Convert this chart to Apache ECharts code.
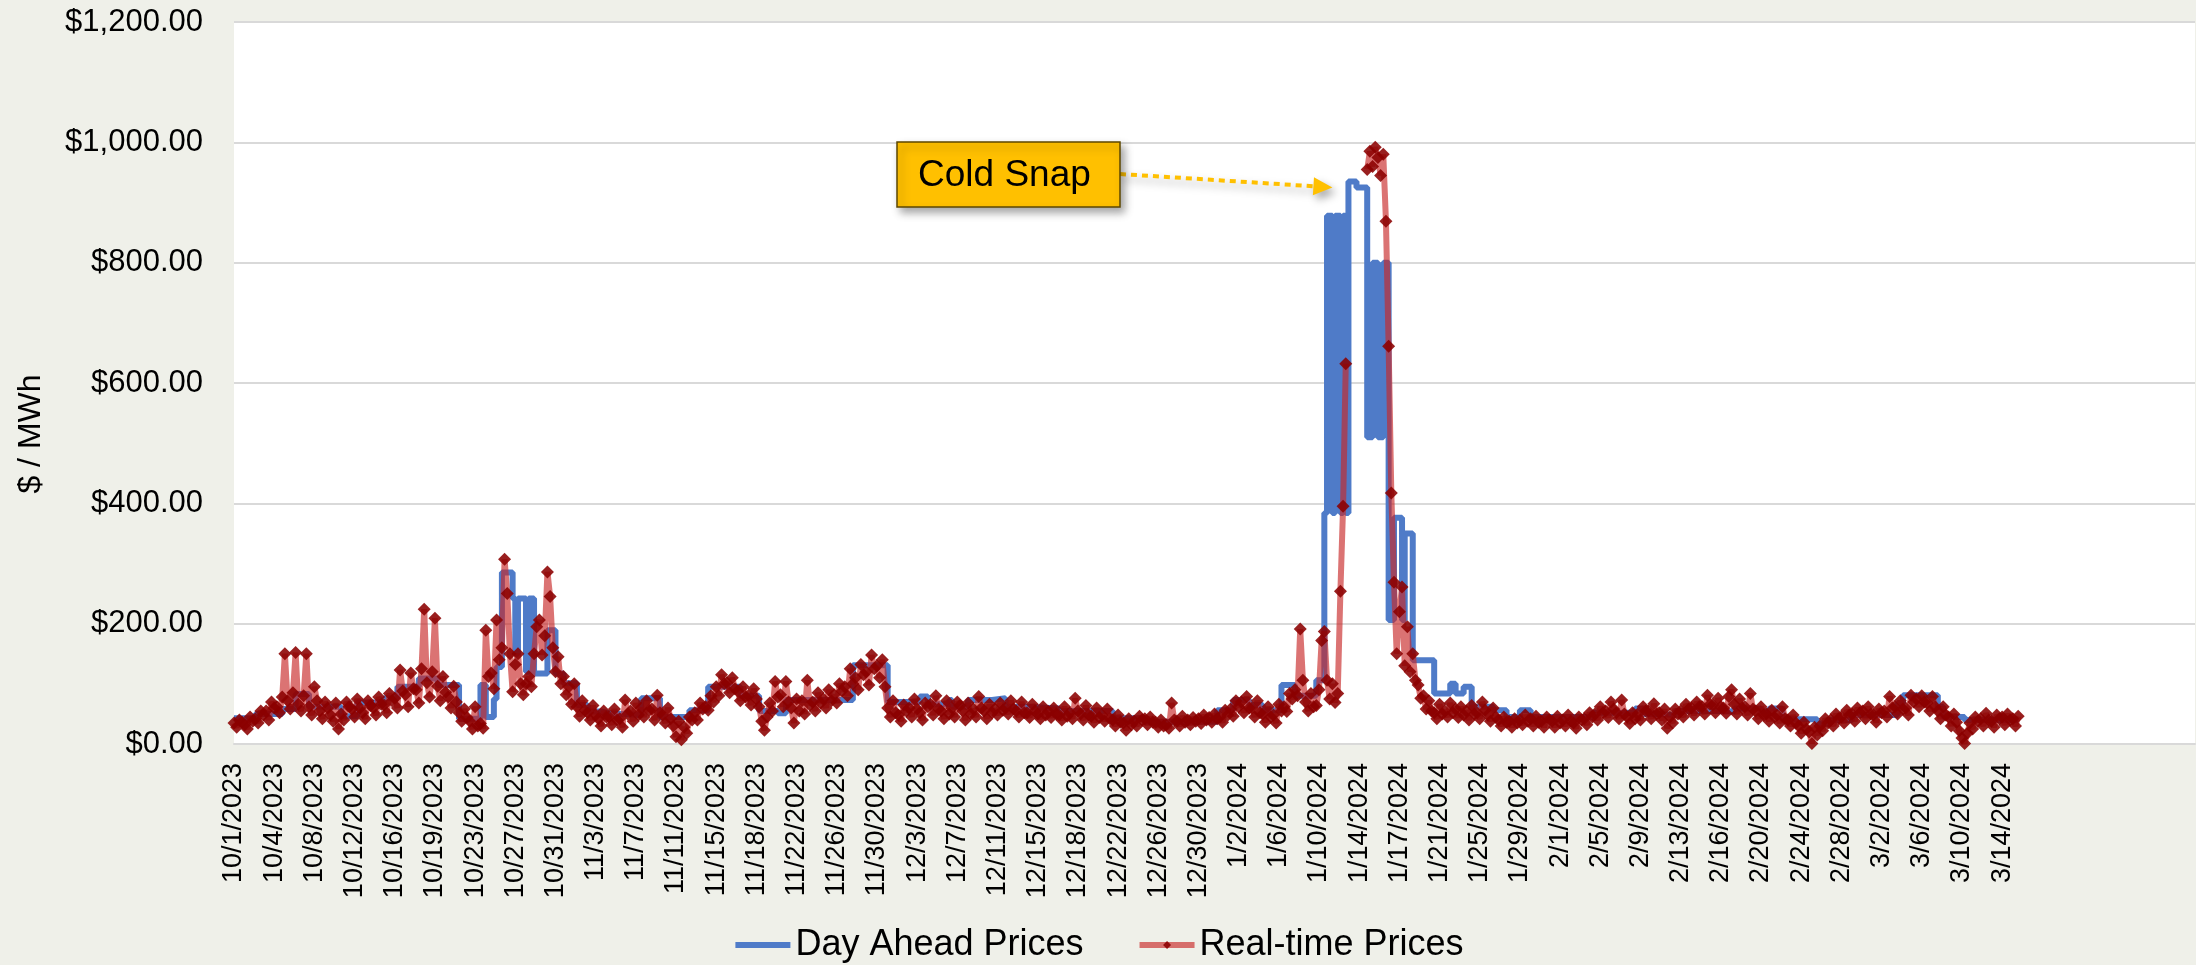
<!DOCTYPE html>
<html>
<head>
<meta charset="utf-8">
<title>Day Ahead vs Real-time Prices</title>
<script src="https://cdn.jsdelivr.net/npm/echarts@6/dist/echarts.min.js"></script>
<style>
  html, body { margin: 0; padding: 0; background: #eff0e9; }
  #chart { width: 2196px; height: 965px; }
</style>
</head>
<body>
<div id="chart"></div>
<script>
// x axis: one slot every 6 hours from 10/1/2023, labels every 3.75 days
const startDate = new Date(2023, 9, 1)
const slotCount = 733
const labelEvery = 15
const tickLabels = ['10/1/2023', '10/4/2023', '10/8/2023', '10/12/2023', '10/16/2023', '10/19/2023', '10/23/2023',
  '10/27/2023', '10/31/2023', '11/3/2023', '11/7/2023', '11/11/2023', '11/15/2023', '11/18/2023', '11/22/2023',
  '11/26/2023', '11/30/2023', '12/3/2023', '12/7/2023', '12/11/2023', '12/15/2023', '12/18/2023', '12/22/2023',
  '12/26/2023', '12/30/2023', '1/2/2024', '1/6/2024', '1/10/2024', '1/14/2024', '1/17/2024', '1/21/2024',
  '1/25/2024', '1/29/2024', '2/1/2024', '2/5/2024', '2/9/2024', '2/13/2024', '2/16/2024', '2/20/2024',
  '2/24/2024', '2/28/2024', '3/2/2024', '3/6/2024', '3/10/2024', '3/14/2024']

// real-time price, 4 readings per day (00, 06, 12, 18h), $/MWh
const rtPrices = [
  35, 28, 40, 36, 32, 25, 45, 38, 42, 35, 55, 48, 55, 40, 70, 60, 62, 52, 78, 150, 72, 58, 85, 152, 66, 55, 80, 150,
  62, 48, 95, 72, 55, 42, 70, 60, 48, 38, 68, 25, 50, 40, 70, 62, 58, 45, 75, 60, 52, 42, 72, 64, 60, 48, 78, 66,
  65, 52, 84, 72, 76, 60, 123, 88, 82, 62, 118, 92, 90, 68, 125, 224, 102, 78, 120, 209, 96, 72, 112, 86, 78, 60, 96, 70,
  52, 38, 58, 44, 38, 25, 62, 30, 34, 26, 189, 112, 118, 92, 206, 140, 160, 307, 250, 150, 87, 132, 150, 100, 82, 100, 112, 95,
  150, 195, 206, 148, 180, 286, 245, 160, 120, 145, 100, 112, 82, 95, 66, 100, 62, 46, 72, 56, 52, 40, 64, 48, 42, 30, 55, 45,
  45, 32, 58, 40, 42, 28, 73, 50, 55, 38, 68, 48, 60, 45, 72, 56, 58, 40, 81, 52, 48, 35, 60, 42, 30, 12, 38, 7,
  28, 18, 45, 40, 52, 40, 68, 58, 62, 56, 80, 70, 95, 80, 115, 100, 102, 85, 110, 92, 88, 72, 95, 78, 80, 65, 92, 75,
  62, 38, 23, 45, 68, 55, 104, 78, 82, 62, 104, 70, 60, 35, 75, 55, 72, 50, 106, 65, 70, 55, 85, 68, 75, 60, 90, 72,
  82, 68, 100, 88, 95, 80, 125, 100, 110, 90, 132, 115, 120, 98, 148, 125, 130, 110, 140, 95, 60, 45, 72, 52, 48, 38, 65, 55,
  60, 45, 75, 58, 52, 40, 68, 62, 66, 48, 80, 58, 55, 42, 72, 50, 60, 45, 70, 64, 55, 40, 68, 50, 58, 45, 79, 60,
  55, 42, 66, 52, 58, 48, 68, 56, 60, 50, 72, 58, 55, 45, 70, 52, 52, 44, 66, 55, 50, 42, 62, 48, 54, 44, 60, 50,
  48, 40, 62, 46, 52, 42, 76, 55, 50, 40, 64, 48, 46, 36, 60, 44, 48, 38, 58, 42, 40, 30, 48, 36, 35, 23, 42, 32,
  38, 30, 46, 40, 42, 32, 45, 36, 36, 28, 40, 30, 32, 26, 68, 40, 38, 30, 46, 36, 40, 32, 44, 38, 42, 34, 48, 40,
  44, 36, 50, 42, 45, 36, 56, 48, 58, 46, 72, 62, 70, 52, 79, 60, 60, 45, 72, 52, 50, 36, 62, 45, 48, 35, 66, 55,
  62, 54, 84, 75, 90, 80, 191, 106, 70, 55, 84, 62, 64, 90, 172, 187, 106, 75, 100, 69, 84, 254, 395, 632,
  null, null, null, null, null, null, null, 955, 985, 960, 992, 975, 945, 980, 869, 661, 417, 269, 150, 220,
  261, 130, 195, 120, 150, 106, 98, 76, 80, 58, 72, 55, 52, 42, 66, 50, 55, 45, 68, 52, 58, 44, 62, 48, 55, 40, 64, 50,
  52, 42, 70, 56, 48, 38, 60, 45, 40, 30, 45, 36, 38, 28, 42, 35, 40, 32, 48, 38, 42, 30, 46, 36, 38, 28, 45, 40,
  38, 28, 46, 35, 40, 30, 48, 38, 35, 26, 45, 40, 42, 32, 52, 45, 50, 40, 62, 52, 55, 44, 70, 58, 52, 42, 73, 50,
  45, 34, 52, 42, 50, 40, 62, 55, 55, 42, 67, 50, 52, 40, 58, 26, 45, 35, 58, 50, 55, 45, 66, 58, 60, 48, 70, 62,
  62, 50, 81, 66, 65, 52, 76, 62, 60, 51, 79, 90, 66, 50, 75, 60, 62, 48, 84, 58, 55, 42, 62, 48, 50, 38, 56, 45,
  48, 35, 62, 42, 40, 30, 48, 35, 30, 18, 36, 25, 20, 1, 28, 15, 30, 22, 42, 35, 40, 30, 50, 42, 45, 35, 56, 48,
  50, 38, 60, 52, 55, 42, 62, 50, 48, 36, 58, 52, 55, 45, 79, 60, 62, 50, 72, 58, 60, 48, 81, 70, 75, 62, 80, 70,
  68, 55, 79, 62, 55, 42, 62, 48, 45, 30, 50, 36, 22, 10, 1, 18, 35, 25, 45, 38, 42, 30, 51, 40, 38, 28, 48, 42,
  45, 32, 50, 40, 42, 30, 46
]

// day ahead price: day (since 10/1) where a new level starts, and that level
const daDays = [0, 2, 4.5, 5.75, 7, 10, 11.5, 14, 15.25, 17.25, 19, 21, 23, 23.5, 24.25, 24.5, 25, 26, 26.25, 26.5,
  27.25, 27.5, 28, 29.25, 30, 30.75, 32, 33, 34.25, 35, 38, 39.75, 42.5, 44.25, 47.25, 49, 50.75, 51.5, 57.75, 61,
  64, 64.75, 66.75, 67, 68.5, 70.75, 72, 74, 77, 82, 85, 91.75, 93.25, 94.75, 96, 97.75, 99, 101, 101.75, 102,
  102.5, 102.75, 103.25, 103.5, 103.75, 104, 104.75, 105.75, 106.25, 106.75, 107.25, 107.75, 108.25, 109, 109.25,
  110, 112, 113.5, 114, 114.75, 115.5, 117.5, 118.75, 120, 121, 126.75, 130.75, 131.5, 133, 134.5, 138.5, 140,
  142.5, 143.25, 144.5, 147.75, 149, 151, 155.25, 155.75, 159, 159.5, 161.5, 166.5]
const daPrices = [43, 50, 58, 83, 62, 46, 69, 76, 95, 109, 98, 42, 98, 45, 75, 128, 285, 242, 150, 242,
  120, 242, 117, 189, 117, 101, 65, 54, 51, 48, 76, 45, 56, 95, 80, 55, 51, 73, 131, 70,
  79, 66, 73, 62, 73, 76, 62, 59, 55, 43, 37, 56, 73, 65, 56, 98, 80, 106, 384, 878,
  384, 878, 384, 878, 384, 935, 925, 510, 800, 510, 800, 206, 376, 206, 350,
  139, 84, 100, 84, 95, 62, 56, 45, 56, 45, 52, 59, 50, 48, 55, 54, 59,
  54, 59, 41, 34, 40, 48, 68, 81, 62, 45, 40, 40]

// where the "Cold Snap" arrow points: [day, price]
const coldSnapTip = [102.5, 925]

const slots = []
for (let i = 0; i < slotCount; i++) {
  const d = new Date(startDate.getTime() + i * 6 * 3600 * 1000)
  slots.push((d.getMonth() + 1) + '/' + d.getDate() + '/' + d.getFullYear() + ' ' + d.getHours() + ':00')
}
const daData = daDays.map((d, i) => [d * 4, daPrices[i]])

const font = '"Liberation Sans", Arial, sans-serif'
const money = v => '$' + v.toFixed(2).replace(/\B(?=(\d{3})+(?!\d))/g, ',')
const daColor = '#4f7bc8'
const rtLine = 'rgba(200, 40, 40, 0.65)'
const rtMark = '#8b0000'

const chart = echarts.init(document.getElementById('chart'))
chart.setOption({
  backgroundColor: '#eff0e9',
  animation: false,
  grid: {
    left: 234,
    right: 1,
    top: 22,
    bottom: 221,
    show: true,
    backgroundColor: '#ffffff',
    borderWidth: 0
  },
  legend: {
    data: [
      { name: 'Day Ahead Prices', itemStyle: { opacity: 0 }, lineStyle: { width: 6, color: daColor } },
      { name: 'Real-time Prices', itemStyle: { color: rtMark }, lineStyle: { width: 6, color: rtLine } }
    ],
    left: 'center',
    top: 922,
    itemWidth: 55,
    itemHeight: 10,
    itemGap: 53,
    textStyle: { fontSize: 36, fontFamily: font, color: '#000' }
  },
  xAxis: {
    type: 'category',
    data: slots,
    boundaryGap: false,
    axisLine: { lineStyle: { color: '#d9d9d9', width: 2 } },
    axisTick: { show: false },
    splitLine: { show: false },
    axisLabel: {
      rotate: 90,
      margin: 19,
      fontSize: 27,
      fontFamily: font,
      color: '#000',
      interval: (idx) => idx % labelEvery === 0,
      formatter: (val, idx) => (idx % labelEvery === 0 ? (tickLabels[idx / labelEvery] || '') : '')
    }
  },
  yAxis: {
    type: 'value',
    min: 0,
    max: 1200,
    interval: 200,
    axisLine: { show: false },
    axisTick: { show: false },
    splitLine: { lineStyle: { color: '#d9d9d9', width: 2 } },
    axisLabel: {
      margin: 31,
      fontSize: 31,
      fontFamily: font,
      color: '#000',
      formatter: money
    }
  },
  series: [
    {
      name: 'Day Ahead Prices',
      type: 'line',
      step: 'end',
      data: daData,
      symbol: 'none',
      lineStyle: { color: daColor, width: 6 },
      itemStyle: { color: daColor }
    },
    {
      name: 'Real-time Prices',
      type: 'line',
      data: rtPrices,
      connectNulls: false,
      symbol: 'diamond',
      symbolSize: 13,
      showAllSymbol: true,
      lineStyle: { color: rtLine, width: 6 },
      itemStyle: { color: rtMark, opacity: 0.88 }
    }
  ]
})

// annotation: box, dotted arrow, and the y axis title
const tip = chart.convertToPixel({ gridIndex: 0 }, [coldSnapTip[0] * 4, coldSnapTip[1]])
const start = [1120, 174]
const dx = tip[0] - start[0]
const dy = tip[1] - start[1]
const len = Math.sqrt(dx * dx + dy * dy)
const ux = dx / len
const uy = dy / len
const headLen = 19
const headHalf = 9
const base = [tip[0] - ux * headLen, tip[1] - uy * headLen]
const shadow = { shadowBlur: 8, shadowOffsetX: 4, shadowOffsetY: 5, shadowColor: 'rgba(0,0,0,0.35)' }

chart.setOption({
  graphic: [
    {
      type: 'line',
      shape: { x1: start[0], y1: start[1], x2: base[0], y2: base[1] },
      style: Object.assign({ stroke: '#ffc000', lineWidth: 4, lineDash: [6, 5] }, shadow)
    },
    {
      type: 'polygon',
      shape: {
        points: [
          [tip[0], tip[1]],
          [base[0] - uy * headHalf, base[1] + ux * headHalf],
          [base[0] + uy * headHalf, base[1] - ux * headHalf]
        ]
      },
      style: Object.assign({ fill: '#ffc000' }, shadow)
    },
    {
      type: 'rect',
      shape: { x: 897, y: 142, width: 223, height: 65 },
      style: Object.assign({ fill: '#ffc000', stroke: '#5c4700', lineWidth: 1.5 }, shadow)
    },
    {
      type: 'text',
      x: 918,
      y: 176,
      style: {
        text: 'Cold Snap',
        font: '37px ' + font,
        fill: '#000',
        textAlign: 'left',
        textVerticalAlign: 'middle'
      }
    },
    {
      type: 'text',
      x: 31,
      y: 434,
      rotation: Math.PI / 2,
      style: {
        text: '$ / MWh',
        font: '32px ' + font,
        fill: '#000',
        textAlign: 'center',
        textVerticalAlign: 'middle'
      }
    }
  ]
})
</script>
</body>
</html>
